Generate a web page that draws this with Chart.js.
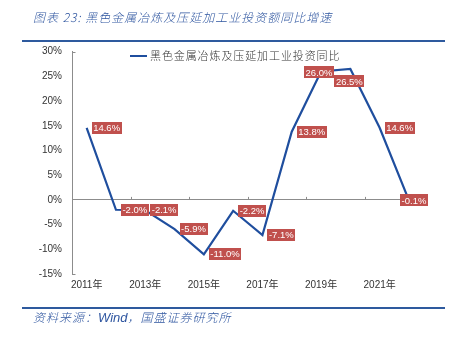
<!DOCTYPE html>
<html>
<head>
<meta charset="utf-8">
<script src="https://cdn.jsdelivr.net/npm/chart.js@4/dist/chart.umd.min.js"></script>
<style>
  html, body { margin: 0; padding: 0; background: #ffffff; }
  #wrap { position: relative; width: 461px; height: 341px; overflow: hidden; }
  #c { position: absolute; left: 0; top: 0; }
  .title { position: absolute; left: 33px; top: 10px; line-height: 14px; font-family: "Noto Sans CJK SC"; font-style: italic; font-weight: 300; font-size: 12px; color: #2F56A0; letter-spacing: 1px; white-space: nowrap; }
  .rule { position: absolute; left: 22px; width: 423px; height: 2px; background: #2E5A9E; }
  .legend { position: absolute; left: 130px; top: 48px; height: 14px; line-height: 14px; white-space: nowrap; font-family: "Noto Sans CJK SC"; font-weight: 300; font-size: 11px; color: #333333; letter-spacing: 0.9px; }
  .legend i { display: inline-block; width: 17px; height: 2px; background: #1F4E9E; vertical-align: middle; margin-right: 3px; position: relative; top: -1px; }
  .source { position: absolute; left: 33px; top: 310px; line-height: 14px; font-family: "Noto Sans CJK SC"; font-style: italic; font-weight: 300; font-size: 12px; color: #2F56A0; letter-spacing: 1px; white-space: nowrap; }
  .source b { font-family: "Liberation Sans"; font-weight: normal; font-size: 13px; letter-spacing: 0; }
</style>
</head>
<body>
<div id="wrap">
  <canvas id="c" width="461" height="341"></canvas>
  <div class="title">图表 23:  黑色金属冶炼及压延加工业投资额同比增速</div>
  <div class="rule" style="top:40px"></div>
  <div class="legend"><i></i>黑色金属冶炼及压延加工业投资同比</div>
  <div class="rule" style="top:307px"></div>
  <div class="source">资料来源：<b>Wind</b>，国盛证券研究所</div>
</div>
<script>
// Years on the category axis (every other one is labelled)
const years = ['2011年', '2012年', '2013年', '2014年', '2015年', '2016年',
               '2017年', '2018年', '2019年', '2020年', '2021年', '2022年'];
// Year-on-year growth of investment, %
const growth = [14.6, -2.0, -2.1, -5.9, -11.0, -2.2, -7.1, 13.8, 26.0, 26.5, 14.6, -0.1];
// Value axis ticks, %
const yTicks = [-15, -10, -5, 0, 5, 10, 15, 20, 25, 30];
// Where each value label sits relative to its point
const labelPlacement = ['right', 'right', 'right', 'right', 'right', 'right',
                        'right', 'right', 'center', 'below', 'right', 'over'];

const LINE_BLUE = '#1F4E9E';
const AXIS_GREY = '#8c8c8c';
const LABEL_RED = '#C0504D';

// Small tick marks on the zero line and at the ends of the value axis
const axisMarks = {
  id: 'axisMarks',
  afterDatasetsDraw(chart) {
    const ctx = chart.ctx;
    const xs = chart.scales.x, ys = chart.scales.y;
    const y0 = ys.getPixelForValue(0);
    ctx.save();
    ctx.strokeStyle = AXIS_GREY;
    ctx.lineWidth = 1;
    ctx.beginPath();
    for (let k = 1; k < years.length - 1; k += 2) {
      const bx = Math.round((xs.getPixelForValue(k) + xs.getPixelForValue(k + 1)) / 2) + 0.5;
      ctx.moveTo(bx, y0 - 3);
      ctx.lineTo(bx, y0);
    }
    const ax = Math.round(chart.chartArea.left) + 0.5;
    [yTicks[0], yTicks[yTicks.length - 1]].forEach(v => {
      const py = Math.round(ys.getPixelForValue(v)) + 0.5;
      ctx.moveTo(ax, py);
      ctx.lineTo(ax + 3, py);
    });
    ctx.stroke();
    ctx.restore();
  }
};

// Red value tags drawn next to each point
const valueTags = {
  id: 'valueTags',
  afterDatasetsDraw(chart) {
    const ctx = chart.ctx;
    const meta = chart.getDatasetMeta(0);
    ctx.save();
    ctx.font = '9.5px "Liberation Sans"';
    ctx.textBaseline = 'middle';
    ctx.textAlign = 'center';
    meta.data.forEach((pt, i) => {
      const text = growth[i].toFixed(1) + '%';
      const w = ctx.measureText(text).width + 3;
      const h = 12;
      let cx, cy;
      switch (labelPlacement[i]) {
        case 'center': cx = pt.x - 2; cy = pt.y + 1; break;
        case 'below':  cx = pt.x - 1; cy = pt.y + 12.5; break;
        case 'over':   cx = pt.x + 5; cy = pt.y; break;
        default:       cx = pt.x + 5 + w / 2; cy = pt.y;
      }
      ctx.fillStyle = LABEL_RED;
      ctx.fillRect(Math.round(cx - w / 2), Math.round(cy - h / 2), Math.round(w), h);
      ctx.fillStyle = '#ffffff';
      ctx.fillText(text, cx, cy + 0.5);
    });
    ctx.restore();
  }
};

new Chart(document.getElementById('c'), {
  type: 'line',
  data: {
    labels: years,
    datasets: [{
      data: growth,
      borderColor: LINE_BLUE,
      borderWidth: 2.2,
      pointRadius: 0,
      tension: 0,
      fill: false,
      clip: false
    }]
  },
  options: {
    responsive: false,
    animation: false,
    events: [],
    layout: { padding: { top: 51.7, right: 37.4, bottom: 47, left: 0 } },
    plugins: { legend: { display: false }, title: { display: false }, tooltip: { enabled: false } },
    scales: {
      x: {
        type: 'category',
        offset: true,
        grid: { display: false, drawTicks: false },
        border: { display: false },
        ticks: {
          autoSkip: false, maxRotation: 0, padding: 5,
          font: { size: 10, family: '"Liberation Sans", "Noto Sans CJK SC"' },
          color: '#333333',
          callback: (v, i) => (i % 2 === 0 ? years[i] : '')
        },
        afterFit(s) { s.height = 20; }
      },
      y: {
        min: yTicks[0],
        max: yTicks[yTicks.length - 1],
        afterBuildTicks(s) { s.ticks = yTicks.map(v => ({ value: v })); },
        ticks: {
          padding: 10,
          font: { size: 10, family: '"Liberation Sans"' },
          color: '#333333',
          callback: v => v + '%'
        },
        grid: {
          drawTicks: false,
          color: c => (c.tick && c.tick.value === 0 ? AXIS_GREY : 'rgba(0,0,0,0)'),
          lineWidth: 1
        },
        border: { display: true, color: AXIS_GREY, width: 1 },
        afterFit(s) { s.width = 72; }
      }
    }
  },
  plugins: [axisMarks, valueTags]
});
</script>
</body>
</html>
